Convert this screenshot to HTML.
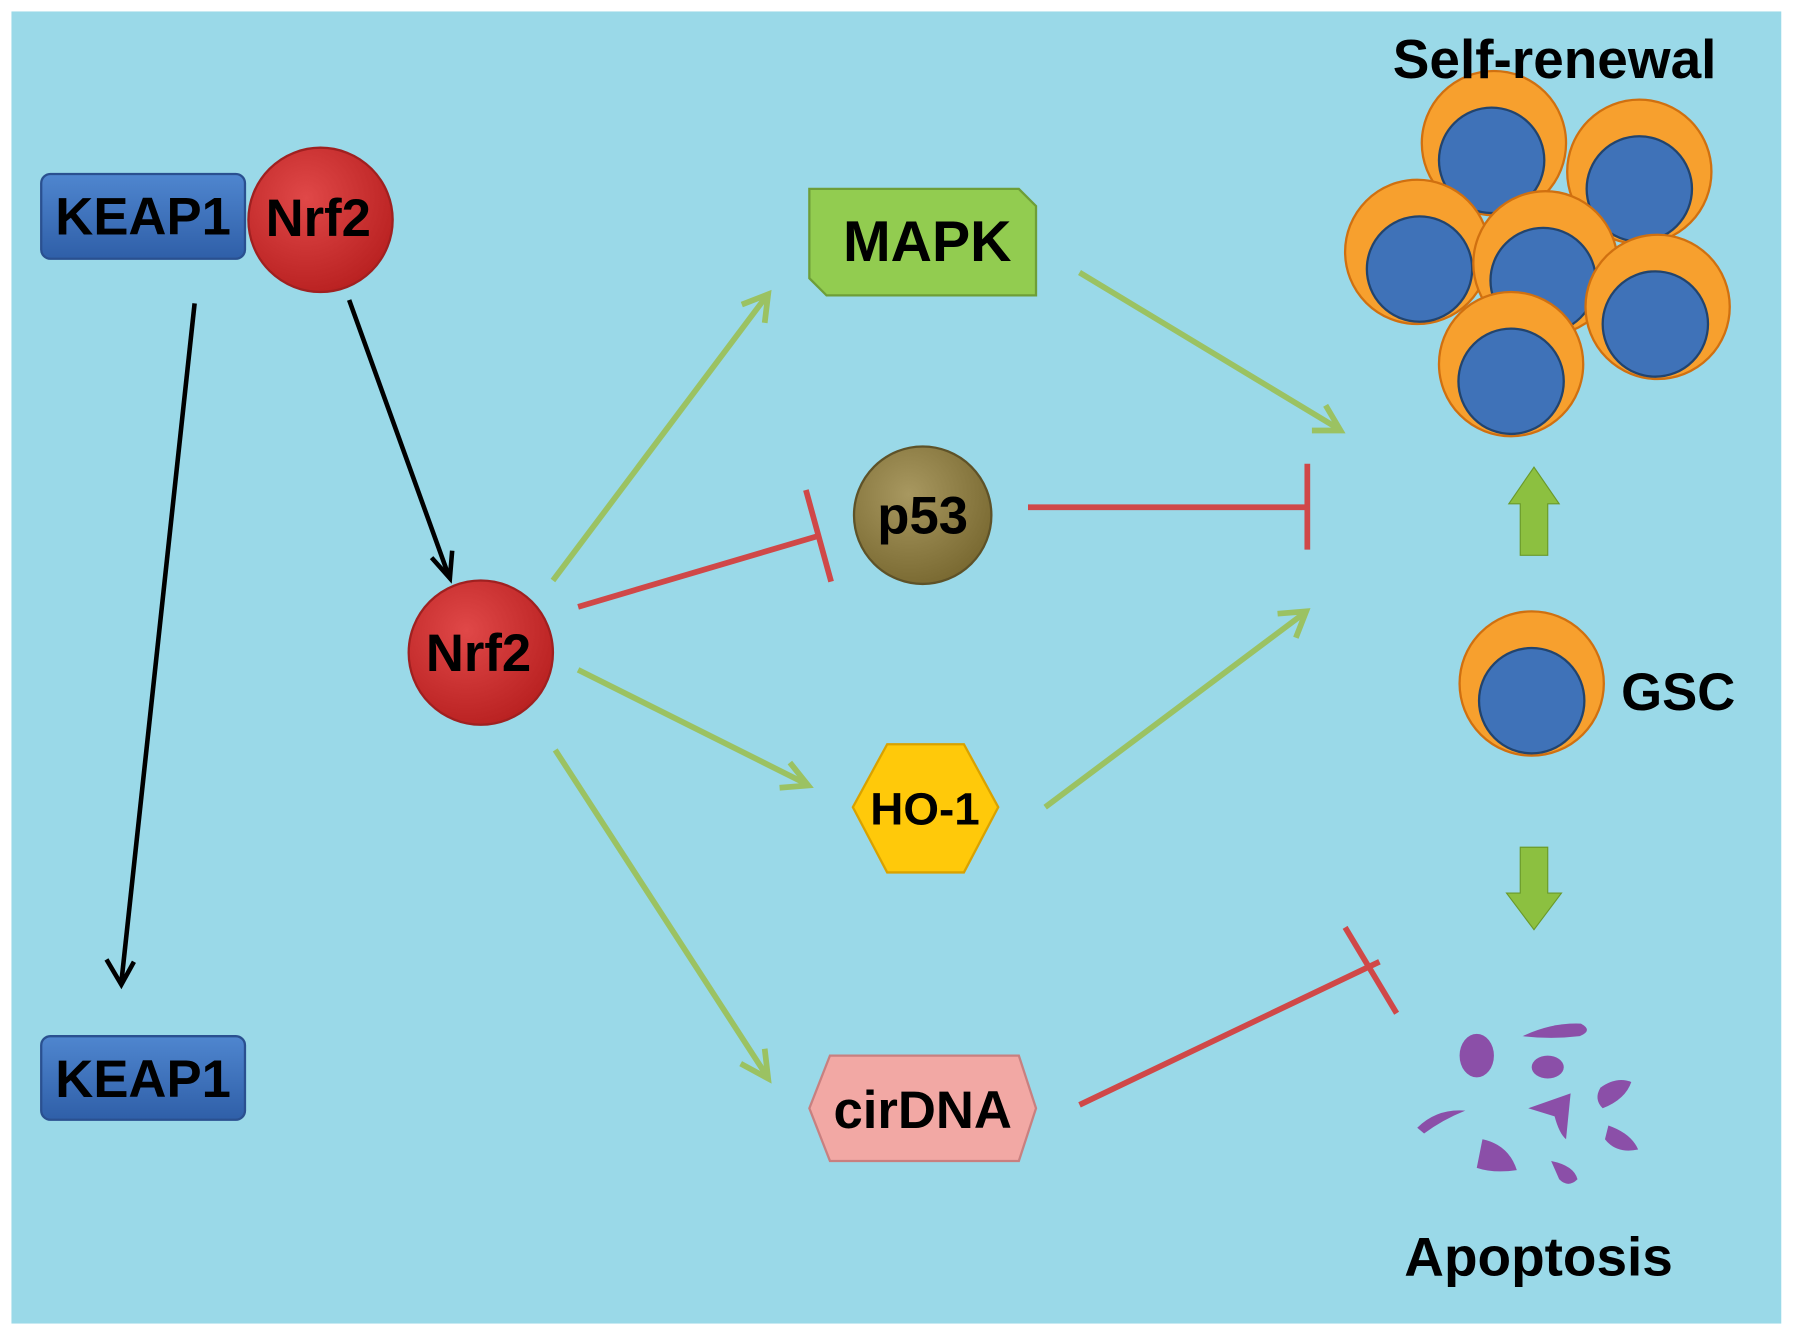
<!DOCTYPE html>
<html><head><style>html,body{margin:0;padding:0;background:#fff}svg{display:block}</style></head><body>
<svg width="1795" height="1335" viewBox="0 0 1568 1166" preserveAspectRatio="none" xmlns="http://www.w3.org/2000/svg" font-family="Liberation Sans, Arial, sans-serif" font-weight="bold">
<defs>
<radialGradient id="red" cx="40%" cy="35%" r="70%"><stop offset="0" stop-color="#E04848"/><stop offset="1" stop-color="#B82020"/></radialGradient>
<radialGradient id="olive" cx="40%" cy="35%" r="70%"><stop offset="0" stop-color="#A89860"/><stop offset="1" stop-color="#786830"/></radialGradient>
<linearGradient id="blue" x1="0" y1="0" x2="0" y2="1"><stop offset="0" stop-color="#4F86CF"/><stop offset="1" stop-color="#2F5FA8"/></linearGradient>
<marker id="ab" markerWidth="10" markerHeight="10" refX="9" refY="5" orient="auto" markerUnits="userSpaceOnUse"><path d="M0,0 L10,5 L0,10" fill="none" stroke="#000" stroke-width="1"/></marker>
</defs>
<rect x="0" y="0" width="1568" height="1166" fill="#fff"/>
<rect x="10" y="10" width="1546" height="1146" fill="#9AD9E8"/>

<!-- black arrows -->
<g stroke="#000" stroke-width="4" fill="none">
<line x1="170" y1="265" x2="106" y2="858"/><path d="M93,838 L106,860 L117,840"/>
<line x1="305" y1="262" x2="392" y2="503"/><path d="M377,487 L393,505 L395,481"/>
</g>
<!-- green arrows -->
<g stroke="#9BC262" stroke-width="5" fill="none">
<line x1="483" y1="507" x2="670" y2="258"/><path d="M648,266 L671,257 L668,282"/>
<line x1="505" y1="585" x2="705" y2="685"/><path d="M681,688 L706,686 L690,666"/>
<line x1="485" y1="655" x2="670" y2="940"/><path d="M647,929 L671,942 L668,916"/>
<line x1="943" y1="238" x2="1170" y2="375"/><path d="M1146,376 L1171,376 L1158,354"/>
<line x1="913" y1="705" x2="1140" y2="535"/><path d="M1116,536 L1141,534 L1132,557"/>
</g>
<!-- red inhibitors -->
<g stroke="#D04848" stroke-width="5" fill="none">
<line x1="505" y1="530" x2="715" y2="468"/><line x1="704" y1="428" x2="726" y2="508"/>
<line x1="898" y1="443" x2="1142" y2="443"/><line x1="1142" y1="405" x2="1142" y2="480"/>
<line x1="943" y1="965" x2="1205" y2="840"/><line x1="1175" y1="810" x2="1220" y2="885"/>
</g>

<!-- KEAP1 boxes -->
<rect x="36" y="152" width="178" height="74" rx="8" fill="url(#blue)" stroke="#2A5090" stroke-width="2"/>
<text x="125" y="205" font-size="46" text-anchor="middle" fill="#000">KEAP1</text>
<rect x="36" y="905" width="178" height="73" rx="8" fill="url(#blue)" stroke="#2A5090" stroke-width="2"/>
<text x="125" y="958" font-size="46" text-anchor="middle" fill="#000">KEAP1</text>
<circle cx="280" cy="192" r="63" fill="url(#red)" stroke="#A02020" stroke-width="2"/>
<text x="278" y="206" font-size="46" text-anchor="middle">Nrf2</text>
<circle cx="420" cy="570" r="63" fill="url(#red)" stroke="#A02020" stroke-width="2"/>
<text x="418" y="586" font-size="46" text-anchor="middle">Nrf2</text>

<!-- MAPK -->
<path d="M707,165 L890,165 L905,180 L905,258 L722,258 L707,243 Z" fill="#92CC50" stroke="#6E9E38" stroke-width="2"/>
<text x="810" y="228" font-size="50" text-anchor="middle">MAPK</text>
<circle cx="806" cy="450" r="60" fill="url(#olive)" stroke="#5E5228" stroke-width="2"/>
<text x="806" y="466" font-size="46" text-anchor="middle">p53</text>
<path d="M745,705 L775,650 L842,650 L872,705 L842,762 L775,762 Z" fill="#FFC90A" stroke="#D9A200" stroke-width="2"/>
<text x="808" y="720" font-size="40" text-anchor="middle">HO-1</text>
<path d="M707,968 L725,922 L890,922 L905,968 L890,1014 L725,1014 Z" fill="#F2A8A4" stroke="#C88080" stroke-width="2"/>
<text x="806" y="985" font-size="46" text-anchor="middle">cirDNA</text>

<!-- cells -->
<g stroke="#D07010" stroke-width="2">
<circle cx="1305" cy="125" r="63" fill="#F7A02E"/><circle cx="1303" cy="140" r="46" fill="#3F72B8" stroke="#22446E"/>
<circle cx="1432" cy="150" r="63" fill="#F7A02E"/><circle cx="1432" cy="165" r="46" fill="#3F72B8" stroke="#22446E"/>
<circle cx="1238" cy="220" r="63" fill="#F7A02E"/><circle cx="1240" cy="235" r="46" fill="#3F72B8" stroke="#22446E"/>
<circle cx="1350" cy="230" r="63" fill="#F7A02E"/><circle cx="1348" cy="245" r="46" fill="#3F72B8" stroke="#22446E"/>
<circle cx="1448" cy="268" r="63" fill="#F7A02E"/><circle cx="1446" cy="283" r="46" fill="#3F72B8" stroke="#22446E"/>
<circle cx="1320" cy="318" r="63" fill="#F7A02E"/><circle cx="1320" cy="333" r="46" fill="#3F72B8" stroke="#22446E"/>
<circle cx="1338" cy="597" r="63" fill="#F7A02E"/><circle cx="1338" cy="612" r="46" fill="#3F72B8" stroke="#22446E"/>
</g>
<text x="1358" y="68" font-size="48" text-anchor="middle">Self-renewal</text>
<text x="1466" y="620" font-size="46" text-anchor="middle">GSC</text>
<text x="1344" y="1114" font-size="48" text-anchor="middle">Apoptosis</text>

<!-- block arrows -->
<path d="M1328,485 L1352,485 L1352,440 L1362,440 L1340,408 L1318,440 L1328,440 Z" fill="#8CC040" stroke="#6A9A2A" stroke-width="1"/>
<path d="M1328,740 L1352,740 L1352,780 L1364,780 L1340,812 L1316,780 L1328,780 Z" fill="#8CC040" stroke="#6A9A2A" stroke-width="1"/>

<!-- apoptotic blobs -->
<g fill="#8B4FA8">
<ellipse cx="1290" cy="922" rx="15" ry="19"/>
<ellipse cx="1352" cy="932" rx="14" ry="10"/>
<path d="M1330,905 Q1355,893 1381,894 Q1392,900 1380,905 Q1355,908 1330,905 Z"/>
<path d="M1398,950 Q1412,940 1425,945 Q1420,960 1400,968 Q1392,960 1398,950 Z"/>
<path d="M1335,968 L1372,955 Q1370,975 1368,995 Q1362,990 1358,975 Z"/>
<path d="M1238,985 Q1255,968 1280,970 Q1260,978 1244,990 Z"/>
<path d="M1295,995 Q1318,1000 1325,1022 Q1305,1025 1290,1020 Z"/>
<path d="M1405,983 Q1425,990 1431,1004 Q1412,1008 1402,995 Z"/>
<path d="M1355,1014 Q1375,1018 1378,1030 Q1370,1038 1362,1030 Z"/>
</g>
</svg>
</body></html>
